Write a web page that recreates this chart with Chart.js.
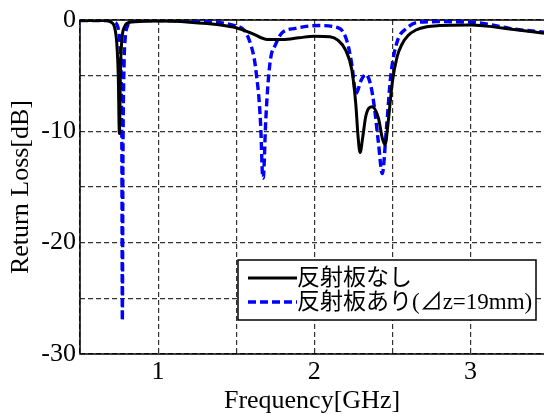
<!DOCTYPE html>
<html><head><meta charset="utf-8">
<script src="https://cdn.jsdelivr.net/npm/chart.js@4"></script>
<style>html,body{margin:0;padding:0;background:#fff;overflow:hidden}canvas{display:block}</style>
</head><body>
<canvas id="c" width="544" height="414"></canvas>
<script>
// Frequency [GHz] and Return Loss [dB]
const freqNone = [0.50,0.65,0.70,0.72,0.735,0.745,0.752,0.76,0.77,0.785,0.80,0.85,1.0,1.2,1.4,1.5,1.6,1.7,1.8,1.9,2.0,2.1,2.15,2.2,2.24,2.265,2.28,2.293,2.31,2.33,2.37,2.41,2.435,2.453,2.47,2.50,2.53,2.56,2.60,2.65,2.72,2.8,3.0,3.1,3.25,3.47];
const rlNone   = [-0.05,-0.05,-0.2,-0.6,-2.0,-5.0,-10.2,-4.0,-1.5,-0.6,-0.3,-0.15,-0.1,-0.2,-0.45,-0.7,-1.2,-1.75,-1.75,-1.6,-1.45,-1.5,-1.8,-2.7,-4.5,-7.5,-10.5,-11.9,-10.5,-8.6,-7.8,-8.8,-10.6,-11.2,-9.5,-5.5,-3.3,-2.2,-1.4,-0.9,-0.6,-0.5,-0.45,-0.55,-0.8,-1.2];
const freqRefl = [0.50,0.68,0.72,0.745,0.755,0.763,0.768,0.771,0.775,0.782,0.79,0.80,0.83,0.9,1.0,1.2,1.4,1.5,1.55,1.583,1.615,1.63,1.647,1.658,1.668,1.673,1.68,1.686,1.70,1.72,1.75,1.79,1.88,2.03,2.16,2.21,2.24,2.267,2.30,2.33,2.36,2.385,2.41,2.435,2.46,2.49,2.53,2.59,2.67,2.8,3.0,3.1,3.25,3.47];
const rlRefl   = [-0.05,-0.05,-0.2,-0.8,-2.0,-5.0,-12.0,-27.0,-12.0,-4.0,-1.5,-0.7,-0.2,-0.05,-0.05,-0.1,-0.25,-0.55,-0.9,-1.8,-3.45,-5.0,-7.3,-10.0,-13.9,-14.2,-12.5,-10.0,-6.4,-3.45,-2.25,-1.2,-0.75,-0.5,-0.75,-1.95,-4.0,-6.6,-5.4,-4.9,-5.8,-7.9,-11.0,-13.8,-10.0,-4.9,-1.95,-0.75,-0.2,-0.15,-0.2,-0.35,-0.75,-1.1];
const seriesLabels = ['反射板なし', '反射板あり(⊿z=19mm)'];
const xTickLabels = [1, 2, 3];
const yTickLabels = [-30, -20, -10, 0];

const SERIF = '"Liberation Serif", "Times New Roman", serif';
const toPts = (xs, ys) => xs.map((x, i) => ({x, y: ys[i]}));

const frame = {
  id: 'frame',
  beforeDatasetsDraw(chart) {
    const {ctx, chartArea: a} = chart;
    ctx.save();
    ctx.strokeStyle = '#000';
    ctx.lineWidth = 1.5;
    ctx.beginPath();
    ctx.moveTo(a.right + 2, a.top); ctx.lineTo(a.left, a.top);
    ctx.lineTo(a.left, a.bottom); ctx.lineTo(a.right + 2, a.bottom);
    ctx.stroke();
    ctx.restore();
  },
  afterDraw(chart) {
    const {ctx} = chart;
    const ds = chart.data.datasets;
    const bx = 238, by = 260, bw = 298, bh = 60;
    ctx.save();
    ctx.fillStyle = '#fff';
    ctx.fillRect(bx, by, bw, bh);
    ctx.strokeStyle = '#000';
    ctx.lineWidth = 1.5;
    ctx.strokeRect(bx, by, bw, bh);
    const rows = [278, 302];
    ds.forEach((d, i) => {
      ctx.strokeStyle = d.borderColor;
      ctx.lineWidth = d.borderWidth;
      ctx.setLineDash(d.borderDash || []);
      ctx.beginPath();
      ctx.moveTo(248, rows[i]); ctx.lineTo(297, rows[i]);
      ctx.stroke();
      ctx.setLineDash([]);
      ctx.fillStyle = '#000';
      ctx.font = '23px ' + SERIF + ', "Noto Sans CJK JP"';
      ctx.textBaseline = 'middle';
      ctx.textAlign = 'left';
      ctx.fillText(d.label, 297, rows[i] + 1);
    });
    ctx.restore();
  }
};

new Chart(document.getElementById('c'), {
  type: 'line',
  data: {
    datasets: [
      {label: seriesLabels[0], data: toPts(freqNone, rlNone), borderColor: '#000', borderWidth: 3, pointRadius: 0, cubicInterpolationMode: 'monotone', fill: false},
      {label: seriesLabels[1], data: toPts(freqRefl, rlRefl), borderColor: '#0000ff', borderWidth: 3.4, borderDash: [8, 4], pointRadius: 0, cubicInterpolationMode: 'monotone', fill: false}
    ]
  },
  options: {
    responsive: false,
    animation: false,
    layout: {padding: {top: 20, right: 0, left: 0, bottom: 0}},
    plugins: {legend: {display: false}, tooltip: {enabled: false}},
    scales: {
      x: {
        type: 'linear', min: 0.5, max: 3.47,
        afterBuildTicks: s => { const t = []; for (let v = 0.5; v <= 3.47; v += 0.5) t.push({value: +v.toFixed(1)}); s.ticks = t; },
        afterFit: s => { s.height = 60; },
        ticks: {
          padding: 3, color: '#000', font: {family: SERIF, size: 26},
          maxRotation: 0, autoSkip: false,
          callback: v => xTickLabels.includes(v) ? String(v) : ''
        },
        grid: {color: '#333', lineWidth: 1.2, drawTicks: false},
        border: {display: false, dash: [5, 3]},
        title: {display: true, text: 'Frequency[GHz]', color: '#000', font: {family: SERIF, size: 26, lineHeight: 1}, padding: {top: 0, bottom: 0}}
      },
      y: {
        type: 'linear', min: -30, max: 0,
        afterBuildTicks: s => { const t = []; for (let v = -30; v <= 0; v += 5) t.push({value: v}); s.ticks = t; },
        afterFit: s => { s.width = 80; },
        ticks: {
          padding: 4, color: '#000', font: {family: SERIF, size: 26},
          callback: v => yTickLabels.includes(v) ? String(v) : ''
        },
        grid: {color: '#333', lineWidth: 1.2, drawTicks: false},
        border: {display: false, dash: [5, 3]},
        title: {display: true, text: 'Return Loss[dB]', color: '#000', font: {family: SERIF, size: 26, lineHeight: 1}, padding: {top: 8, bottom: 0}}
      }
    }
  },
  plugins: [frame]
});
</script>
</body></html>
